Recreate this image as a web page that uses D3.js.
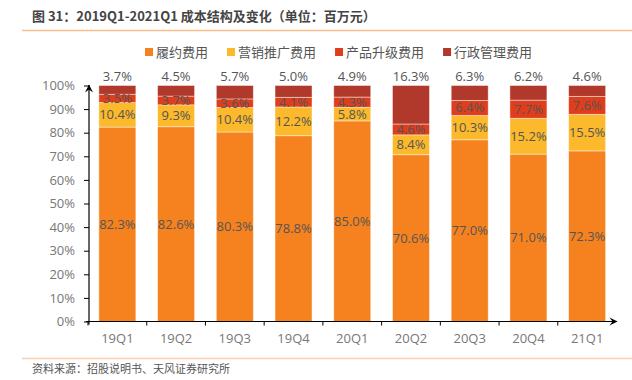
<!DOCTYPE html>
<html><head><meta charset="utf-8">
<script src="https://cdn.jsdelivr.net/npm/d3@7"></script>
<style>
html,body{margin:0;padding:0;background:#fff;}
svg{display:block;}
</style></head>
<body>
<svg id="c" width="632" height="380"></svg>
<script>
const categories = ["19Q1","19Q2","19Q3","19Q4","20Q1","20Q2","20Q3","20Q4","21Q1"];
const seriesNames = ["履约费用","营销推广费用","产品升级费用","行政管理费用"];
const fulfillment = [82.3,82.6,80.3,78.8,85.0,70.6,77.0,71.0,72.3];
const marketing   = [10.4,9.3,10.4,12.2,5.8,8.4,10.3,15.2,15.5];
const upgrade     = [3.5,3.7,3.6,4.1,4.3,4.6,6.4,7.7,7.6];
const admin       = [3.7,4.5,5.7,5.0,4.9,16.3,6.3,6.2,4.6];
const yTicks = [0,0.1,0.2,0.3,0.4,0.5,0.6,0.7,0.8,0.9,1.0];
const colors = ["#F5821F","#FBB92B","#E03D1C","#B0392B"];
const title = "图 31：2019Q1-2021Q1 成本结构及变化（单位：百万元）";
const source = "资料来源：招股说明书、天风证券研究所";

const seriesData = [fulfillment, marketing, upgrade, admin];
const table = categories.map((c,i)=>{
  const o = {cat:c};
  seriesNames.forEach((k,j)=>o[k]=seriesData[j][i]);
  return o;
});

const svg = d3.select("#c");
const latin = "'Open Sans','Noto Sans CJK SC',sans-serif";
const cjk = "'Noto Sans CJK SC','Noto Sans',sans-serif";

// title + rules
svg.append("text").attr("x",32).attr("y",21).text(title)
  .attr("font-family",cjk).attr("font-size",13).attr("font-weight","bold").attr("fill","#444");
svg.append("line").attr("x1",22).attr("x2",632).attr("y1",30.5).attr("y2",30.5)
  .attr("stroke","#F9BE8C").attr("stroke-width",1.5);
svg.append("line").attr("x1",22).attr("x2",632).attr("y1",358.5).attr("y2",358.5)
  .attr("stroke","#F9CFAB").attr("stroke-width",1.5);
svg.append("text").attr("x",32).attr("y",373).text(source)
  .attr("font-family",cjk).attr("font-size",11).attr("fill","#555");

const x0 = 88, x1 = 616.5, yBottom = 321.5, yTop = 85.5;
const x = d3.scaleBand().domain(categories).range([x0,x1]).padding(0);
const y = d3.scaleLinear().domain([0,1]).range([yBottom,yTop]);
const barW = x.bandwidth()*0.63;

const stack = d3.stack().keys(seriesNames).offset(d3.stackOffsetExpand);
const stacked = stack(table);

const g = svg.append("g");
stacked.forEach((layer,li)=>{
  g.selectAll(null).data(layer).enter().append("rect")
    .attr("x",d=>x(d.data.cat)+(x.bandwidth()-barW)/2)
    .attr("width",barW)
    .attr("y",d=>y(d[1]))
    .attr("height",d=>y(d[0])-y(d[1]))
    .attr("fill",colors[li])
    .attr("stroke","#fff").attr("stroke-opacity",0.55).attr("stroke-width",0.8);
});
// labels
stacked.forEach((layer,li)=>{
  const top = li===stacked.length-1;
  g.selectAll(null).data(layer).enter().append("text")
    .attr("x",d=>x(d.data.cat)+x.bandwidth()/2)
    .attr("y",d=> top ? y(1)-9.5 : y((d[0]+d[1])/2))
    .attr("dy","0.35em")
    .attr("text-anchor","middle")
    .attr("font-family",latin).attr("font-size",13).attr("fill","#555")
    .text((d,i)=>seriesData[li][i].toFixed(1)+"%");
});

// y axis
const yAxis = d3.axisLeft(y).tickValues(yTicks).tickFormat(d3.format(".0%")).tickSize(5).tickPadding(9);
const ya = svg.append("g").attr("transform",`translate(${x0+1},0)`).call(yAxis);
ya.select(".domain").remove();
ya.selectAll(".tick line").attr("stroke","#000");
ya.selectAll(".tick text").attr("font-family",latin).attr("font-size",13).attr("fill","#777");
svg.append("line").attr("x1",x0+1).attr("x2",x0+1).attr("y1",yBottom+3).attr("y2",yTop-0.5).attr("stroke","#000").attr("stroke-width",1.2);
svg.append("path").attr("d",`M${x0+1-4},${yTop+7} L${x0+1},${yTop-1} L${x0+1+4},${yTop+7} L${x0+1},${yTop+4} Z`).attr("fill","#000");

// x axis
const xAxis = d3.axisBottom(x).tickSize(0).tickPadding(12);
const xa = svg.append("g").attr("transform",`translate(0,${yBottom})`).call(xAxis);
xa.select(".domain").remove();
xa.selectAll(".tick text").attr("font-family",latin).attr("font-size",13).attr("fill","#777");
svg.append("line").attr("x1",x0-2).attr("x2",x1).attr("y1",yBottom).attr("y2",yBottom).attr("stroke","#000").attr("stroke-width",1.2);
svg.selectAll(null).data(categories).enter().append("line")
  .attr("x1",d=>x(d)).attr("x2",d=>x(d)).attr("y1",yBottom).attr("y2",yBottom+4)
  .attr("stroke","#000").attr("stroke-width",1);
svg.append("path").attr("d",`M${x1-7},${yBottom-4} L${x1+1},${yBottom} L${x1-7},${yBottom+4} L${x1-4},${yBottom} Z`).attr("fill","#000");

// legend
const lg = svg.append("g");
let lx = 145;
seriesNames.forEach((n,i)=>{
  lg.append("rect").attr("x",lx).attr("y",48).attr("width",8).attr("height",8).attr("fill",colors[i]);
  const t = lg.append("text").attr("x",lx+11).attr("y",52).attr("dy","0.35em")
    .attr("font-family",cjk).attr("font-size",13).attr("fill","#555").text(n);
  lx += 11 + t.node().getComputedTextLength() + 19;
});
</script>
</body></html>
